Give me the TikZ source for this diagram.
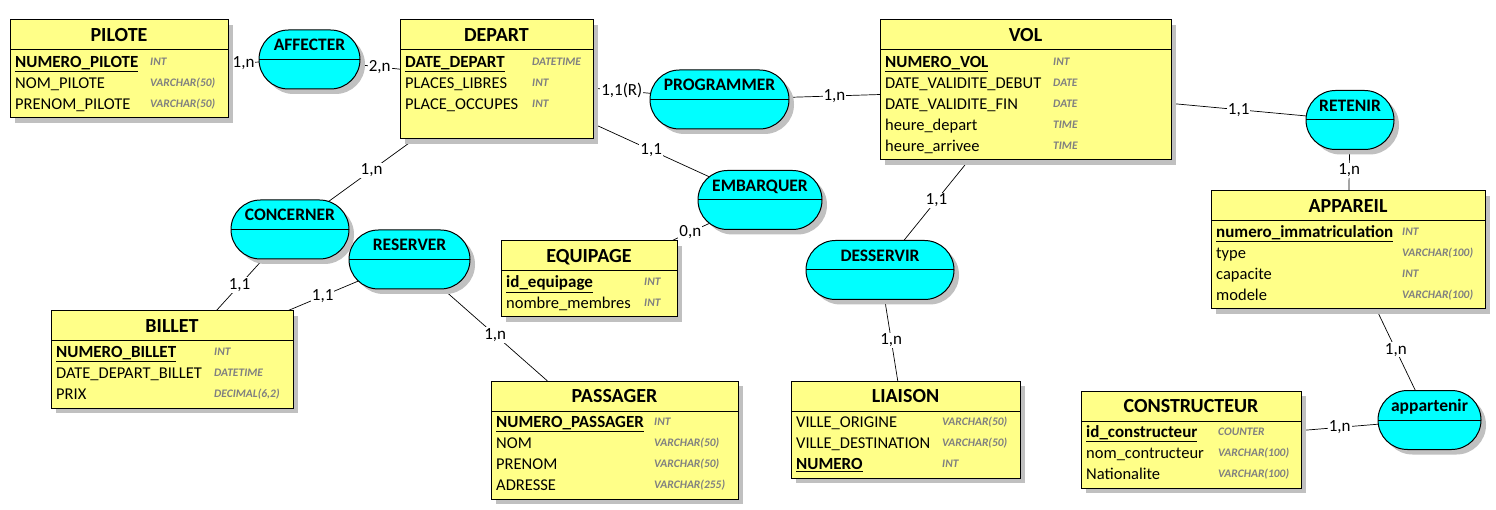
\documentclass[tikz,border=0pt]{standalone}
\usepackage{fontspec}
\setmainfont{Carlito}
\usepackage{xcolor}
\definecolor{EntYellow}{RGB}{255,255,136}
\definecolor{RelCyan}{RGB}{0,255,255}
\definecolor{ShadowGray}{RGB}{192,192,192}
\definecolor{TypeGray}{RGB}{128,128,128}
\usepackage{tikz}
\usetikzlibrary{shapes.misc, positioning, shadows, backgrounds}
\tikzset{
  % Entity box (title band of 30pt)
  ent/.style={
    rectangle, draw=black, line width=1pt,
    fill=EntYellow, inner sep=0pt, outer sep=0pt,
    drop shadow={shadow xshift=5pt, shadow yshift=-5pt, fill=ShadowGray, opacity=1},
    path picture={\draw[line width=1pt]
      ([yshift=-30pt]path picture bounding box.north west) --
      ([yshift=-30pt]path picture bounding box.north east);}
  },
  etitle/.style={inner sep=0pt, outer sep=0pt, font=\fontsize{20}{24}\selectfont\bfseries,
    text height=21.45pt, text depth=8.55pt},
  % Relation (association)
  rel/.style={
    rounded rectangle, draw=black, line width=1pt,
    fill=RelCyan, inner sep=0pt, outer sep=0pt,
    minimum height=59pt,
    drop shadow={shadow xshift=5pt, shadow yshift=-5pt, fill=ShadowGray, opacity=1},
    path picture={\draw[line width=1pt]
      (path picture bounding box.west) -- (path picture bounding box.east);}
  },
  rtitle/.style={inner sep=0pt, outer sep=0pt, font=\fontsize{17.5}{20}\selectfont\bfseries,
    text height=20.15pt, text depth=8.85pt},
  % Attributes
  attr/.style={anchor=west, inner sep=0pt, font=\fontsize{16.5}{20}\selectfont,
    text height=15pt, text depth=4pt},
  pkey/.style={attr, font=\fontsize{17}{20}\selectfont\bfseries},
  dtype/.style={anchor=west, inner sep=0pt, text=TypeGray,
    font=\fontsize{11.5}{13}\selectfont\bfseries\itshape,
    text height=9.4pt, text depth=2pt},
  % Links and cardinalities
  link/.style={draw=black, line width=0.7pt},
  card/.style={fill=white, inner sep=1pt, font=\fontsize{17}{20}\selectfont},
}

\begin{document}
\begin{tikzpicture}[x=1pt, y=-1pt]
  \useasboundingbox (0,0) rectangle (1496,510);

  %% Entities
  % PILOTE
  \node[ent, minimum width=218pt, minimum height=98pt] (pilote) at (119,69) {};
  \node[etitle, below=0pt of pilote.north] {PILOTE};
  \node[pkey] at (15,62) {\underline{NUMERO\_PILOTE}};  \node[dtype] at (150,62) {INT};
  \node[attr] at (15,83) {NOM\_PILOTE};                 \node[dtype] at (150,83) {VARCHAR(50)};
  \node[attr] at (15,104) {PRENOM\_PILOTE};             \node[dtype] at (150,104) {VARCHAR(50)};

  % DEPART
  \node[ent, minimum width=193pt, minimum height=119pt] (depart) at (496.5,79.5) {};
  \node[etitle, below=0pt of depart.north] {DEPART};
  \node[pkey] at (405,62) {\underline{DATE\_DEPART}};   \node[dtype] at (532,62) {DATETIME};
  \node[attr] at (405,83) {PLACES\_LIBRES};             \node[dtype] at (532,83) {INT};
  \node[attr] at (405,104) {PLACE\_OCCUPES};            \node[dtype] at (532,104) {INT};

  % VOL
  \node[ent, minimum width=291pt, minimum height=140pt] (vol) at (1025.5,90) {};
  \node[etitle, below=0pt of vol.north] {VOL};
  \node[pkey] at (885,62) {\underline{NUMERO\_VOL}};    \node[dtype] at (1053,62) {INT};
  \node[attr] at (885,83) {DATE\_VALIDITE\_DEBUT};      \node[dtype] at (1053,83) {DATE};
  \node[attr] at (885,104) {DATE\_VALIDITE\_FIN};       \node[dtype] at (1053,104) {DATE};
  \node[attr] at (885,125) {heure\_depart};             \node[dtype] at (1053,125) {TIME};
  \node[attr] at (885,146) {heure\_arrivee};            \node[dtype] at (1053,146) {TIME};

  % APPAREIL
  \node[ent, minimum width=274pt, minimum height=118pt] (appareil) at (1348,250) {};
  \node[etitle, below=0pt of appareil.north] {APPAREIL};
  \node[pkey] at (1216,232) {\underline{numero\_immatriculation}}; \node[dtype] at (1402,232) {INT};
  \node[attr] at (1216,253) {type};                     \node[dtype] at (1402,253) {VARCHAR(100)};
  \node[attr] at (1216,274) {capacite};                 \node[dtype] at (1402,274) {INT};
  \node[attr] at (1216,295) {modele};                   \node[dtype] at (1402,295) {VARCHAR(100)};

  % BILLET
  \node[ent, minimum width=242pt, minimum height=97pt] (billet) at (172,359.5) {};
  \node[etitle, below=0pt of billet.north] {BILLET};
  \node[pkey] at (56,352) {\underline{NUMERO\_BILLET}}; \node[dtype] at (214,352) {INT};
  \node[attr] at (56,373) {DATE\_DEPART\_BILLET};       \node[dtype] at (214,373) {DATETIME};
  \node[attr] at (56,394) {PRIX};                       \node[dtype] at (214,394) {DECIMAL(6,2)};

  % EQUIPAGE
  \node[ent, minimum width=176pt, minimum height=76pt] (equipage) at (589,279) {};
  \node[etitle, below=0pt of equipage.north] {EQUIPAGE};
  \node[pkey] at (506,282) {\underline{id\_equipage}};  \node[dtype] at (644,282) {INT};
  \node[attr] at (506,303) {nombre\_membres};           \node[dtype] at (644,303) {INT};

  % PASSAGER
  \node[ent, minimum width=247pt, minimum height=118pt] (passager) at (614.5,440) {};
  \node[etitle, below=0pt of passager.north] {PASSAGER};
  \node[pkey] at (496,422) {\underline{NUMERO\_PASSAGER}}; \node[dtype] at (654,422) {INT};
  \node[attr] at (496,443) {NOM};                       \node[dtype] at (654,443) {VARCHAR(50)};
  \node[attr] at (496,464) {PRENOM};                    \node[dtype] at (654,464) {VARCHAR(50)};
  \node[attr] at (496,485) {ADRESSE};                   \node[dtype] at (654,485) {VARCHAR(255)};

  % LIAISON
  \node[ent, minimum width=229pt, minimum height=97pt] (liaison) at (905.5,429.5) {};
  \node[etitle, below=0pt of liaison.north] {LIAISON};
  \node[attr] at (796,422) {VILLE\_ORIGINE};            \node[dtype] at (942,422) {VARCHAR(50)};
  \node[attr] at (796,443) {VILLE\_DESTINATION};        \node[dtype] at (942,443) {VARCHAR(50)};
  \node[pkey] at (796,464) {\underline{NUMERO}};        \node[dtype] at (942,464) {INT};

  % CONSTRUCTEUR
  \node[ent, minimum width=220pt, minimum height=97pt] (constr) at (1191,439.5) {};
  \node[etitle, below=0pt of constr.north] {CONSTRUCTEUR};
  \node[pkey] at (1086,432) {\underline{id\_constructeur}}; \node[dtype] at (1218,432) {COUNTER};
  \node[attr] at (1086,453) {nom\_contructeur};         \node[dtype] at (1218,453) {VARCHAR(100)};
  \node[attr] at (1086,474) {Nationalite};              \node[dtype] at (1218,474) {VARCHAR(100)};

  %% Relations
  \node[rel, minimum width=101pt] (aff) at (309.5,59.5) {};
  \node[rtitle, above=0pt of aff.center] {AFFECTER};
  \node[rel, minimum width=139pt] (prog) at (719.5,99.5) {};
  \node[rtitle, above=0pt of prog.center] {PROGRAMMER};
  \node[rel, minimum width=124pt] (embarq) at (760,200) {};
  \node[rtitle, above=0pt of embarq.center] {EMBARQUER};
  \node[rel, minimum width=118pt] (concern) at (290,229.5) {};
  \node[rtitle, above=0pt of concern.center] {CONCERNER};
  \node[rel, minimum width=121pt] (reserv) at (409.5,259.5) {};
  \node[rtitle, above=0pt of reserv.center] {RESERVER};
  \node[rel, minimum width=148pt] (desserv) at (880,270) {};
  \node[rtitle, above=0pt of desserv.center] {DESSERVIR};
  \node[rel, minimum width=88pt] (retenir) at (1350,120) {};
  \node[rtitle, above=0pt of retenir.center] {RETENIR};
  \node[rel, minimum width=103pt] (appart) at (1429.5,420) {};
  \node[rtitle, above=0pt of appart.center] {appartenir};

  %% Links with cardinalities
  \begin{scope}[on background layer]
    \fill[white] (0,0) rectangle (1496,510);
    \draw[link] (pilote) -- node[card]{1,n} (aff);
    \draw[link] (aff) -- node[card]{2,n} (depart);
    \draw[link] (depart) -- node[card]{1,1(R)} (prog);
    \draw[link] (prog) -- node[card]{1,n} (vol);
    \draw[link] (depart) -- node[card]{1,1} (embarq);
    \draw[link] (embarq) -- node[card]{0,n} (equipage);
    \draw[link] (depart) -- node[card]{1,n} (concern);
    \draw[link] (concern) -- node[card]{1,1} (billet);
    \draw[link] (reserv) -- node[card]{1,1} (billet);
    \draw[link] (reserv) -- node[card]{1,n} (passager);
    \draw[link] (vol) -- node[card]{1,1} (desserv);
    \draw[link] (desserv) -- node[card]{1,n} (liaison);
    \draw[link] (vol) -- node[card]{1,1} (retenir);
    \draw[link] (retenir) -- node[card]{1,n} (appareil);
    \draw[link] (appareil) -- node[card]{1,n} (appart);
    \draw[link] (constr) -- node[card]{1,n} (appart);
  \end{scope}
\end{tikzpicture}
\end{document}
